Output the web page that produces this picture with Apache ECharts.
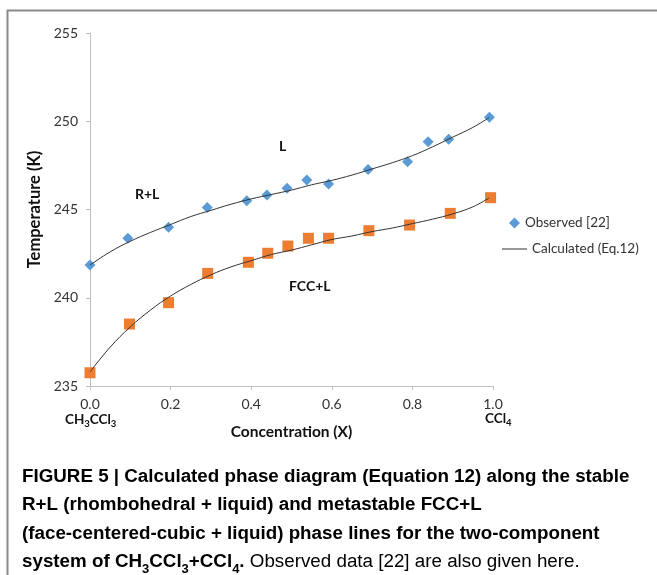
<!DOCTYPE html>
<html>
<head>
<meta charset="utf-8">
<script src="https://cdn.jsdelivr.net/npm/echarts@6/dist/echarts.min.js"></script>
<style>
html,body{margin:0;padding:0;background:#fff;}
#chart{width:657px;height:575px;}
</style>
</head>
<body>
<div id="chart"></div>
<script>
// Observed data [22] — R+L (rhombohedral + liquid), diamonds
const obsRL_x = [0.0, 0.094, 0.195, 0.291, 0.389, 0.439, 0.489, 0.538, 0.592, 0.690, 0.788, 0.839, 0.890, 0.991];
const obsRL_y = [241.86, 243.37, 243.99, 245.12, 245.50, 245.82, 246.20, 246.67, 246.44, 247.27, 247.71, 248.84, 248.98, 250.22];
// Observed data [22] — FCC+L (face-centered-cubic + liquid), squares
const obsFCC_x = [0.0, 0.098, 0.195, 0.292, 0.393, 0.441, 0.491, 0.542, 0.592, 0.692, 0.793, 0.894, 0.994];
const obsFCC_y = [235.75, 238.51, 239.72, 241.38, 242.01, 242.52, 242.93, 243.37, 243.37, 243.80, 244.12, 244.78, 245.67];
// Calculated (Eq.12) curves
const calc_x = [0.0, 0.05, 0.1, 0.15, 0.2, 0.25, 0.3, 0.35, 0.4, 0.45, 0.5, 0.55, 0.6, 0.65, 0.7, 0.75, 0.8, 0.85, 0.9, 0.95, 0.99];
const calcRL_y = [241.85, 242.6, 243.2, 243.7, 244.15, 244.6, 244.95, 245.3, 245.6, 245.85, 246.1, 246.4, 246.65, 246.95, 247.3, 247.65, 248.05, 248.55, 249.1, 249.65, 250.2];
const calcFCC_y = [235.8, 237.2, 238.35, 239.3, 240.1, 240.75, 241.3, 241.75, 242.1, 242.45, 242.7, 243.0, 243.3, 243.5, 243.75, 243.95, 244.2, 244.45, 244.75, 245.15, 245.65];
// Axis ticks
const xTicks = [0.0, 0.2, 0.4, 0.6, 0.8, 1.0];
const yTicks = [235, 240, 245, 250, 255];

const zip = (xs, ys) => xs.map((x, i) => [x, ys[i]]);
const chartFont = 'Lato';
const capFont = 'Liberation Sans';

const chart = echarts.init(document.getElementById('chart'), null, {renderer: 'canvas'});

const capStyles = {
  b: {fontFamily: capFont, fontWeight: 'bold', fontSize: 18.8, color: '#1a1a1a', lineHeight: 28.5, verticalAlign: 'middle'},
  bs: {fontFamily: capFont, fontWeight: 'bold', fontSize: 13, color: '#1a1a1a', lineHeight: 19, verticalAlign: 'bottom'},
  n: {fontFamily: capFont, fontWeight: 'normal', fontSize: 18.8, color: '#555', lineHeight: 28.5, verticalAlign: 'middle'}
};
const subRich = {
  m: {fontFamily: chartFont, fontWeight: 'bold', fontSize: 13.5, fill: '#111', lineHeight: 18, verticalAlign: 'middle'},
  s: {fontFamily: chartFont, fontWeight: 'bold', fontSize: 9.5, fill: '#111', lineHeight: 14, verticalAlign: 'bottom'}
};

chart.setOption({
  animation: false,
  backgroundColor: '#fff',
  grid: {left: 90, right: 164, top: 33, bottom: 189, containLabel: false},
  xAxis: {
    type: 'value', min: 0, max: 1, interval: 0.2,
    axisLine: {show: true, lineStyle: {color: '#c0c0c0', width: 1}},
    axisTick: {show: true, length: 4, lineStyle: {color: '#c0c0c0'}},
    splitLine: {show: false},
    axisLabel: {color: '#333', fontFamily: chartFont, fontSize: 14, margin: 11, formatter: v => v.toFixed(1)},
    name: 'Concentration (X)', nameLocation: 'middle', nameGap: 38,
    nameTextStyle: {fontFamily: chartFont, fontWeight: 'bold', fontSize: 15.5, color: '#111'}
  },
  yAxis: {
    type: 'value', min: 235, max: 255, interval: 5,
    axisLine: {show: true, lineStyle: {color: '#c0c0c0', width: 1}},
    axisTick: {show: true, length: 4, lineStyle: {color: '#c0c0c0'}},
    splitLine: {show: false},
    axisLabel: {color: '#333', fontFamily: chartFont, fontSize: 14, margin: 12},
    name: 'Temperature (K)', nameLocation: 'middle', nameGap: 38,
    nameTextStyle: {fontFamily: chartFont, fontWeight: 'bold', fontSize: 16.5, color: '#111'}
  },
  legend: [
    {data: ['Observed [22]'], orient: 'vertical', left: 509, top: 216, padding: 0, itemWidth: 11, itemHeight: 11, itemGap: 10,
     textStyle: {fontFamily: chartFont, fontSize: 13.5, color: '#333'}},
    {data: [{name: 'Calculated (Eq.12)', icon: 'rect'}], orient: 'vertical', left: 502, top: 242, padding: 0, itemWidth: 25, itemHeight: 1, itemGap: 4,
     textStyle: {fontFamily: chartFont, fontSize: 13.5, color: '#333'}}
  ],
  series: [
    {name: 'Calculated (Eq.12)', type: 'line', data: zip(calc_x, calcRL_y), smooth: 0.4, showSymbol: false, symbol: 'none',
     lineStyle: {color: '#333', width: 1}, itemStyle: {color: '#333'}, z: 3},
    {name: 'Calculated (Eq.12)', type: 'line', data: zip(calc_x, calcFCC_y), smooth: 0.4, showSymbol: false, symbol: 'none',
     lineStyle: {color: '#333', width: 1}, itemStyle: {color: '#333'}, z: 3},
    {name: 'Observed [22]', type: 'scatter', data: zip(obsRL_x, obsRL_y), symbol: 'diamond', symbolSize: 11,
     itemStyle: {color: '#5b9bd5', opacity: 1}, z: 2},
    {name: 'Observed [22] ', type: 'scatter', data: zip(obsFCC_x, obsFCC_y), symbol: 'rect', symbolSize: 11,
     itemStyle: {color: '#ed7d31', opacity: 1}, z: 2}
  ],
  graphic: [
    // figure frame
    {type: 'line', shape: {x1: 7, y1: 10.5, x2: 657, y2: 10.5}, style: {stroke: '#8a8a8a', lineWidth: 2}, silent: true},
    {type: 'line', shape: {x1: 7.5, y1: 10, x2: 7.5, y2: 575}, style: {stroke: '#8a8a8a', lineWidth: 2}, silent: true},
    // region labels
    {type: 'text', left: 279, top: 139, style: {text: 'L', fontFamily: chartFont, fontWeight: 'bold', fontSize: 14, fill: '#111'}},
    {type: 'text', left: 135, top: 187, style: {text: 'R+L', fontFamily: chartFont, fontWeight: 'bold', fontSize: 14, fill: '#111'}},
    {type: 'text', left: 289, top: 279, style: {text: 'FCC+L', fontFamily: chartFont, fontWeight: 'bold', fontSize: 14, fill: '#111'}},
    // component labels under the x axis
    {type: 'text', left: 65, top: 413, style: {rich: subRich, text: '{m|CH}{s|3}{m|CCl}{s|3}'}},
    {type: 'text', left: 485, top: 412, style: {rich: subRich, text: '{m|CCl}{s|4}'}},
    // caption
    {type: 'text', left: 22, top: 467, style: {
      rich: capStyles,
      text: '{b|FIGURE 5 | Calculated phase diagram (Equation 12) along the stable}\n' +
            '{b|R+L (rhombohedral + liquid) and metastable FCC+L}\n' +
            '{b|(face-centered-cubic + liquid) phase lines for the two-component}\n' +
            '{b|system of CH}{bs|3}{b|CCl}{bs|3}{b|+CCl}{bs|4}{b|.}{n| Observed data [22] are also given here.}'
    }}
  ]
});
</script>
</body>
</html>
